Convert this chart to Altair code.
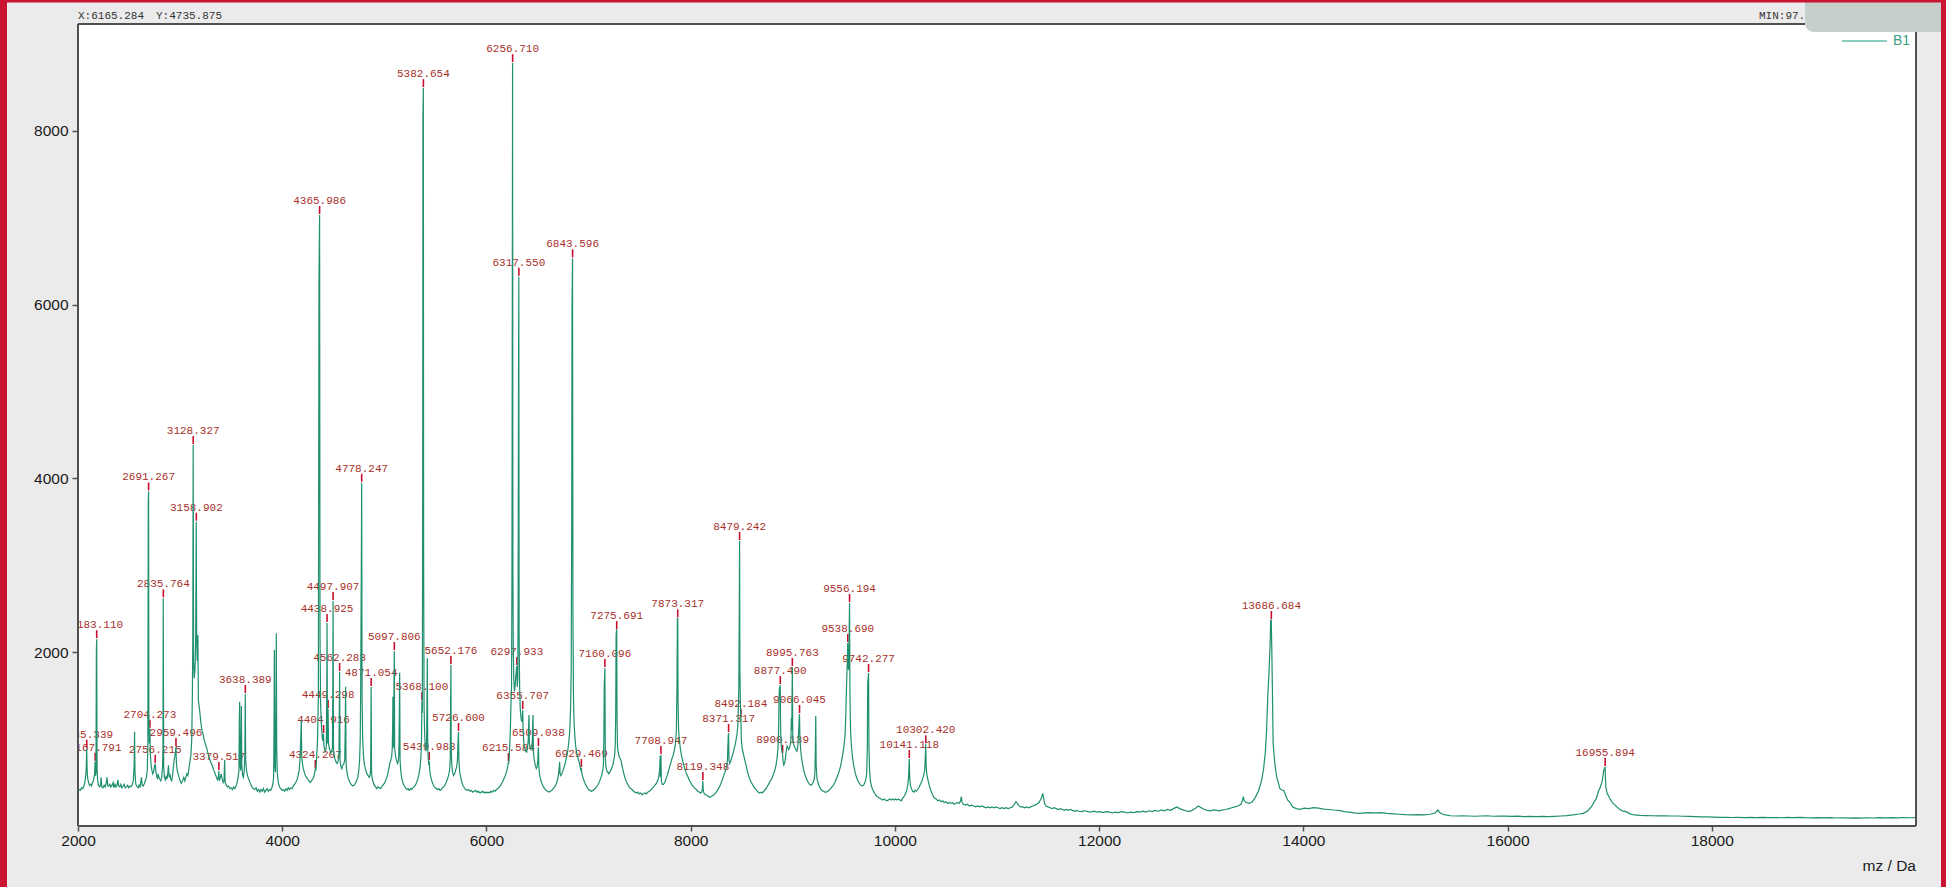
import altair as alt
import pandas as pd

# ---------------- spectrum trace (m/z, intensity) ----------------
SEG_A = [(2000,400),(2012,420),(2024,410),(2036,440),(2048,430),(2058,460),(2066,500),(2074,560),(2080,640),(2085,890),(2090,620),(2096,540),(2104,500),(2112,470),(2122,480),(2132,460),(2142,500),(2150,520),(2157,560),(2163,600),(2167,740),(2171,580),(2176,620),(2180,2020),(2183,2150),(2187,640),(2193,520),(2200,470),(2210,450),(2220,470),(2226,560),(2232,450),(2244,440),(2256,470),(2266,450),(2276,490),(2284,560),(2290,470),(2300,460),(2312,480),(2322,450),(2334,470),(2344,500),(2352,440),(2362,480),(2372,450),(2382,470),(2392,530),(2398,460),(2410,450),(2420,480),(2430,440),(2442,460),(2452,480),(2462,440),(2474,450),(2486,470),(2496,440),(2508,460),(2518,450),(2530,470),(2542,520),(2550,700),(2554,1085),(2558,620),(2566,480),(2576,460),(2588,440),(2598,470),(2608,450),(2616,520),(2622,560),(2628,470),(2638,460),(2650,490),(2660,520),(2670,560),(2678,640),(2684,900),(2688,3700),(2691,3850),(2694,1300),(2698,950),(2704,1120),(2709,820),(2716,700),(2724,640),(2732,600),(2740,620),(2748,680),(2756,715),(2762,640),(2770,580),(2778,540),(2786,600),(2792,560),(2800,540),(2810,520),(2820,560),(2828,680),(2832,900),(2835,2620),(2839,700),(2846,560),(2856,530),(2864,580),(2872,540),(2880,620),(2886,700),(2892,560),(2900,600),(2908,540),(2918,520),(2926,580),(2934,680),(2942,760),(2950,820),(2955,860),(2959,910),(2964,720),(2972,640),(2980,600),(2990,560)]
SEG_B = [(3000,520),(3012,490),(3024,520),(3036,560),(3046,520),(3056,560),(3066,600),(3076,580),(3086,660),(3096,740),(3106,820),(3114,1000),(3120,1500),(3124,2100),(3128,4384),(3132,1900),(3138,1700),(3146,1800),(3152,2100),(3156,2900),(3158,3502),(3162,2200),(3168,1900),(3174,2198),(3179,1450),(3186,1380),(3194,1300),(3204,1180),(3214,1100),(3224,1060),(3236,990),(3248,940),(3260,900),(3274,830),(3288,770),(3302,730),(3316,690),(3330,640),(3344,600),(3356,560),(3366,530),(3374,560),(3379,633),(3384,520),(3394,560),(3402,600),(3412,540),(3422,500),(3430,520),(3436,760),(3441,500),(3452,470),(3464,450),(3476,460),(3488,430),(3500,440),(3512,420),(3524,450),(3536,430),(3548,460),(3558,500),(3568,560),(3576,640),(3580,1200),(3583,1430),(3587,700),(3594,640),(3600,1380),(3604,700),(3612,580),(3620,560),(3628,640),(3634,800),(3638,1519),(3642,760),(3650,640),(3660,580),(3672,540),(3684,500),(3696,470),(3708,440),(3720,430),(3732,420),(3744,440),(3756,400),(3768,420),(3780,390),(3792,420),(3804,400),(3816,430),(3828,390),(3840,410),(3852,430),(3864,400),(3876,420),(3888,410),(3898,440),(3908,480),(3916,560),(3920,1200),(3923,2025),(3927,700),(3934,620),(3939,1500),(3942,2217),(3946,900),(3952,600),(3962,500),(3974,450),(3986,430)]
SEG_C = [(4000,410),(4012,420),(4024,400),(4036,430),(4048,410),(4060,440),(4072,420),(4084,440),(4096,430),(4108,460),(4120,480),(4132,500),(4144,530),(4156,580),(4166,640),(4174,760),(4180,950),(4184,1100),(4187,1220),(4191,800),(4198,720),(4206,660),(4216,620),(4226,580),(4238,560),(4250,540),(4262,520),(4274,500),(4286,520),(4298,540),(4308,560),(4316,600),(4324,656),(4330,640),(4338,800),(4346,1000),(4354,1500),(4360,6283),(4366,7031),(4370,2200),(4376,1400),(4384,1150),(4392,1020),(4398,980),(4404,1059),(4409,920),(4416,880),(4424,860),(4432,920),(4436,1500),(4439,2336),(4443,950),(4446,1000),(4449,1346),(4453,960),(4460,900),(4468,870),(4476,840),(4484,860),(4492,900),(4495,1500),(4498,2589),(4502,880),(4510,800),(4520,760),(4530,730),(4540,720),(4550,760),(4556,840),(4559,1300),(4562,1772),(4566,760),(4574,690),(4584,660),(4594,700),(4604,720),(4612,760),(4617,1100),(4621,1603),(4625,720),(4634,620),(4644,560),(4656,520),(4668,490),(4680,470),(4692,460),(4704,470),(4716,490),(4728,520),(4740,560),(4750,640),(4758,760),(4764,1000),(4768,1500),(4771,2178),(4776,3300),(4778,3950),(4782,1500),(4788,1000),(4796,800),(4806,700),(4818,640),(4830,600),(4842,580),(4852,560),(4860,580),(4866,640),(4871,1600),(4875,620),(4882,540),(4892,500),(4902,470),(4914,450),(4926,430),(4938,450),(4950,440),(4962,430),(4974,450),(4986,470)]
SEG_D = [(5000,490),(5012,520),(5024,560),(5034,600),(5044,660),(5054,720),(5064,760),(5072,800),(5078,900),(5082,1200),(5084,1488),(5087,900),(5092,1000),(5095,1700),(5098,2014),(5101,900),(5108,820),(5118,760),(5128,720),(5136,740),(5142,820),(5147,1300),(5150,1764),(5154,760),(5162,620),(5172,540),(5184,490),(5196,460),(5208,440),(5220,420),(5232,430),(5244,410),(5256,430),(5268,420),(5280,440),(5292,450),(5304,470),(5316,500),(5328,540),(5340,600),(5350,680),(5358,780),(5364,1000),(5368,1438),(5372,1300),(5376,4000),(5378,8147),(5382,8492),(5385,3000),(5389,1400),(5394,1100),(5400,920),(5408,860),(5414,960),(5418,1500),(5421,1930),(5425,900),(5430,780),(5436,700),(5440,748),(5445,640),(5452,580),(5462,530),(5474,490),(5486,460),(5498,440),(5510,430),(5522,420),(5534,430),(5546,410),(5558,420),(5570,440),(5582,450),(5594,470),(5606,500),(5618,540),(5628,580),(5636,620),(5642,680),(5646,800),(5649,1400),(5652,1853),(5655,900),(5660,720),(5668,620),(5678,580),(5688,600),(5698,640),(5708,680),(5716,760),(5721,950),(5726,1082),(5730,760),(5738,620),(5748,560),(5760,500),(5772,460),(5784,440),(5796,420),(5810,410),(5824,420),(5838,400),(5852,410),(5866,390),(5880,400),(5894,410),(5908,390),(5922,400),(5936,380),(5950,390),(5964,400),(5978,380),(5990,390)]
SEG_E = [(6000,380),(6014,390),(6028,380),(6042,400),(6056,390),(6070,410),(6084,400),(6098,420),(6112,430),(6126,450),(6140,470),(6154,500),(6166,530),(6178,560),(6190,600),(6200,640),(6208,680),(6212,720),(6215,736),(6219,720),(6226,860),(6234,1100),(6240,1400),(6246,1603),(6250,3000),(6252,4810),(6256,8780),(6259,3000),(6263,2000),(6268,1700),(6274,1550),(6280,1600),(6286,1700),(6292,1780),(6297,1841),(6302,1600),(6307,1700),(6310,2500),(6314,5000),(6317,6321),(6320,2200),(6325,1600),(6331,1350),(6338,1250),(6345,1200),(6351,1250),(6355,1335),(6359,1100),(6366,960),(6374,900),(6384,860),(6394,850),(6402,900),(6410,1000),(6414,1200),(6417,1277),(6420,950),(6428,900),(6436,880),(6444,900),(6450,1000),(6453,1200),(6456,1277),(6460,850),(6468,760),(6478,700),(6488,660),(6496,680),(6503,760),(6506,860),(6509,909),(6513,680),(6522,580),(6534,520),(6546,480),(6558,450),(6570,430),(6584,410),(6598,400),(6612,390),(6626,400),(6640,410),(6654,430),(6668,450),(6682,480),(6694,520),(6704,580),(6710,640),(6714,700),(6717,740),(6721,600),(6728,580),(6738,600),(6750,640),(6762,680),(6774,740),(6786,800),(6798,880),(6808,980),(6816,1100),(6824,1350),(6830,1800),(6835,3500),(6838,5949),(6843,6533),(6847,2500),(6852,1500),(6858,1200),(6865,1050),(6874,920),(6884,840),(6894,790),(6904,750),(6914,710),(6922,650),(6926,640),(6929,667),(6933,620),(6940,580),(6950,540),(6962,500),(6974,470),(6988,440)]
SEG_F = [(7000,420),(7014,410),(7028,400),(7042,410),(7056,420),(7070,440),(7084,460),(7098,490),(7110,520),(7122,560),(7132,600),(7140,650),(7146,720),(7150,1000),(7154,1646),(7157,1700),(7160,1818),(7164,800),(7170,680),(7178,640),(7188,620),(7198,600),(7208,620),(7218,640),(7228,670),(7238,700),(7248,760),(7256,820),(7262,950),(7266,1300),(7270,2198),(7273,2250),(7276,2255),(7279,1200),(7284,900),(7292,840),(7300,800),(7308,780),(7316,760),(7324,720),(7334,660),(7346,600),(7358,550),(7370,510),(7384,480),(7398,450),(7412,430),(7426,420),(7440,400),(7454,390),(7468,380),(7482,390),(7496,370),(7510,380),(7524,360),(7538,370),(7552,380),(7566,370),(7580,390),(7594,400),(7608,410),(7622,430),(7636,450),(7650,470),(7664,490),(7676,520),(7686,560),(7694,620),(7698,700),(7701,805),(7704,560),(7707,700),(7709,817),(7713,520),(7722,480),(7734,480),(7746,500),(7758,540),(7770,580),(7782,630),(7794,680),(7806,730),(7818,780),(7830,820),(7842,880),(7852,960),(7860,1100),(7866,1600),(7870,2390),(7873,2390),(7877,1400),(7882,1100),(7890,980),(7900,880),(7912,800),(7924,740),(7936,690),(7948,640),(7960,600),(7972,570),(7986,530)]
SEG_G = [(8000,500),(8014,470),(8028,450),(8042,430),(8056,420),(8070,400),(8084,390),(8098,380),(8108,390),(8114,420),(8119,518),(8124,400),(8134,370),(8146,360),(8160,350),(8174,340),(8188,330),(8202,340),(8216,350),(8230,360),(8244,380),(8258,400),(8272,430),(8286,460),(8300,500),(8312,540),(8324,580),(8336,620),(8346,660),(8354,700),(8360,760),(8364,900),(8368,1030),(8371,1070),(8375,760),(8382,720),(8390,740),(8400,780),(8412,820),(8424,880),(8436,940),(8446,1000),(8454,1060),(8462,1150),(8468,1400),(8472,1642),(8476,2500),(8479,3280),(8482,1800),(8486,1500),(8489,1300),(8492,1243),(8496,1000),(8504,900),(8514,840),(8526,780),(8538,720),(8550,660),(8562,600),(8576,550),(8590,510),(8604,480),(8618,450),(8632,430),(8646,410),(8660,390),(8674,380),(8688,390),(8702,380),(8716,400),(8730,420),(8744,440),(8758,470),(8772,500),(8786,530),(8800,560),(8812,600),(8824,640),(8836,700),(8846,780),(8854,880),(8860,1000),(8866,1500),(8870,1603),(8874,1550),(8877,1622),(8881,1100),(8888,900),(8894,860),(8900,828),(8905,740),(8912,700),(8920,720),(8928,780),(8936,860),(8944,920),(8952,900),(8960,880),(8968,900),(8976,940),(8982,1000),(8986,1243),(8990,1100),(8993,1500),(8996,1830)]
SEG_H = [(9000,1000),(9006,950),(9014,920),(9022,900),(9030,880),(9040,860),(9048,900),(9054,1000),(9060,1150),(9063,1250),(9066,1289),(9070,1000),(9076,900),(9084,800),(9094,720),(9104,660),(9116,600),(9128,560),(9140,530),(9152,500),(9164,480),(9176,470),(9188,480),(9200,500),(9210,540),(9216,600),(9220,800),(9225,1266),(9229,700),(9236,560),(9246,500),(9258,460),(9272,430),(9286,410),(9300,400),(9314,390),(9328,390),(9342,400),(9356,410),(9370,430),(9384,450),(9398,470),(9412,500),(9426,540),(9440,580),(9454,630),(9468,690),(9480,760),(9492,840),(9502,930),(9512,1050),(9520,1300),(9526,1600),(9532,1833),(9535,1900),(9538,2106),(9542,1850),(9546,1800),(9550,1900),(9553,2300),(9556,2566),(9560,1500),(9566,1100),(9574,920),(9584,800),(9596,700),(9610,620),(9624,560),(9638,520),(9652,490),(9666,470),(9680,460),(9694,470),(9706,500),(9716,540),(9724,600),(9730,900),(9734,1645),(9738,1700),(9742,1761),(9746,900),(9752,640),(9760,520),(9770,460),(9782,420),(9796,390),(9810,360),(9824,340),(9838,330),(9852,320),(9866,310),(9880,300),(9894,310),(9908,300),(9922,290),(9936,300),(9950,310),(9964,300),(9978,310),(9992,300)]
SEG_I = [(10006,310),(10020,300),(10034,310),(10048,300),(10062,290),(10076,320),(10090,340),(10104,370),(10116,410),(10126,470),(10134,560),(10138,700),(10141,771),(10145,560),(10152,470),(10162,430),(10174,400),(10186,390),(10198,410),(10210,400),(10222,420),(10234,440),(10246,470),(10258,500),(10270,540),(10282,580),(10292,640),(10298,800),(10302,940),(10306,700),(10312,600),(10322,540),(10334,480),(10348,420),(10362,380),(10376,340),(10390,320),(10404,310),(10420,290),(10436,300),(10452,280),(10468,290),(10484,270),(10500,280),(10516,260),(10532,270),(10548,260),(10564,270),(10580,250),(10596,260),(10612,270),(10628,260),(10640,280),(10648,320),(10652,337),(10656,280),(10670,250),(10690,240),(10710,250),(10730,230),(10750,240),(10770,230),(10790,220),(10810,230),(10830,220),(10850,230),(10870,220),(10890,210),(10910,220),(10930,210),(10950,220),(10970,210),(10990,220),(11010,210),(11030,200),(11050,210),(11070,200),(11090,210),(11110,200),(11130,210),(11150,220),(11170,250),(11185,280),(11195,270),(11210,240),(11230,220),(11250,220),(11270,210),(11290,220),(11310,210),(11330,220),(11350,230),(11370,240),(11390,250),(11410,270),(11425,300),(11440,340),(11448,376),(11455,330),(11465,260),(11480,230),(11500,220),(11520,210),(11540,200),(11560,210),(11580,200),(11600,190),(11620,200),(11640,190),(11660,180),(11680,190),(11700,180),(11720,190),(11740,180),(11760,170),(11780,180),(11800,170),(11830,165),(11860,175),(11890,165),(11920,160),(11950,170),(11980,160),(12010,165),(12040,155),(12070,165),(12100,160),(12130,150),(12160,160),(12190,155),(12220,165),(12250,160),(12280,150),(12310,160),(12340,155),(12370,165),(12400,160),(12430,170),(12460,160),(12490,175),(12520,165),(12550,180),(12580,170),(12610,185),(12640,175),(12670,190),(12700,180),(12730,200),(12760,220),(12790,200),(12820,185),(12850,175),(12880,165),(12910,180),(12940,200),(12970,230),(13000,210)]
SEG_J = [(13030,190),(13060,180),(13090,175),(13120,185),(13150,180),(13180,175),(13210,185),(13240,190),(13270,200),(13300,210),(13330,220),(13360,230),(13390,250),(13405,300),(13413,337),(13420,290),(13440,270),(13470,260),(13500,280),(13530,330),(13560,400),(13590,520),(13610,650),(13628,850),(13640,1105),(13652,1500),(13665,1795),(13675,2100),(13680,2370),(13686,2370),(13691,2048),(13698,1500),(13704,955),(13716,780),(13728,650),(13740,560),(13755,500),(13770,430),(13790,414),(13808,410),(13825,360),(13845,300),(13870,270),(13894,222),(13930,200),(13970,192),(14010,205),(14050,200),(14100,211),(14150,205),(14200,195),(14250,190),(14300,184),(14350,180),(14400,165),(14450,160),(14500,150),(14550,146),(14600,150),(14650,155),(14700,150),(14760,153),(14820,145),(14880,140),(14940,135),(15000,130),(15060,127),(15120,130),(15180,128),(15240,135),(15290,150),(15317,184),(15340,150),(15380,130),(15440,118),(15500,115),(15560,118),(15620,115),(15680,112),(15740,115),(15800,118),(15860,112),(15920,115),(15980,114),(16040,110),(16100,113),(16160,108),(16220,111),(16280,107),(16340,110),(16400,107),(16460,111),(16520,115),(16580,120),(16640,128),(16700,138),(16740,146),(16780,170),(16820,220),(16850,280),(16870,320),(16890,400),(16910,452),(16928,520),(16942,640),(16955,679),(16962,450),(16975,376),(16995,330),(17020,280),(17040,255),(17070,220),(17100,190),(17130,172),(17160,165),(17200,140),(17243,127),(17300,122),(17360,120),(17420,118),(17480,117),(17540,116),(17600,115),(17660,115),(17720,112),(17780,110),(17840,108),(17900,106),(17960,104),(18020,102),(18080,100),(18140,100),(18200,98),(18260,100),(18320,96),(18380,99),(18440,97),(18500,100),(18560,96),(18620,98),(18680,95),(18740,99),(18800,97),(18860,100),(18920,96),(18980,94),(19040,97),(19100,93),(19160,96),(19220,92),(19280,95),(19340,90),(19400,94),(19460,91),(19520,95),(19580,92),(19640,96),(19700,93),(19760,97),(19820,94),(19880,98),(19940,95),(20000,97)]

# ---------------- labelled peaks ----------------
PEAK_LABELS = ["2085.339","2167.791","2183.110","2691.267","2704.273","2756.215","2835.764","2959.496","3128.327","3158.902",
               "3379.517","3638.389","4324.207","4365.986","4404.916","4438.925","4449.298","4497.907","4562.283","4778.247",
               "4871.054","5097.806","5368.100","5382.654","5439.988","5652.176","5726.600","6215.584","6256.710","6297.933",
               "6317.550","6355.707","6509.038","6843.596","6929.469","7160.096","7275.691","7708.947","7873.317","8119.348",
               "8371.317","8479.242","8492.184","8877.490","8900.139","8995.763","9066.045","9538.690","9556.194","9742.277",
               "10141.118","10302.420","13686.684","16955.894"]
PEAK_INT = [890,740,2150,3850,1120,715,2620,910,4384,3502,
            633,1519,656,7031,1059,2336,1346,2589,1772,3950,
            1600,2014,1438,8492,748,1853,1082,736,8780,1841,
            6321,1335,909,6533,667,1818,2255,817,2390,518,
            1070,3280,1243,1622,828,1830,1289,2106,2566,1761,
            771,940,2370,679]

X_TICKS = [2000, 4000, 6000, 8000, 10000, 12000, 14000, 16000, 18000]
Y_TICKS = [2000, 4000, 6000, 8000]
X_DOMAIN = [2000, 20000]
Y_DOMAIN = [0, 9230]

W, H = 1838, 802
PAD = {"left": 78, "top": 24, "right": 30, "bottom": 61}

trace = pd.DataFrame(SEG_A + SEG_B + SEG_C + SEG_D + SEG_E + SEG_F + SEG_G + SEG_H + SEG_I + SEG_J,
                     columns=["mz", "intensity"])
peaks = pd.DataFrame({"mz": [float(s) for s in PEAK_LABELS], "intensity": PEAK_INT, "label": PEAK_LABELS})
one = pd.DataFrame({"k": [0]})

AXIS_COLOR = "#505050"
LABEL_COLOR = "#1a1a1a"
LINE_COLOR = "#1F8F70"

xs = alt.Scale(domain=X_DOMAIN, nice=False, zero=False)
ys = alt.Scale(domain=Y_DOMAIN, nice=False, zero=False)
x_axis = alt.Axis(values=X_TICKS, format="d", title=None, grid=False, domain=False,
                  tickSize=5, tickWidth=1.5, tickColor=AXIS_COLOR,
                  labelFont="Liberation Sans", labelFontSize=15.5, labelColor=LABEL_COLOR,
                  labelPadding=2, labelFlush=False, labelOverlap=False)
y_axis = alt.Axis(values=Y_TICKS, format="d", title=None, grid=False, domain=False,
                  tickSize=6, tickWidth=1.5, tickColor=AXIS_COLOR,
                  labelFont="Liberation Sans", labelFontSize=15.5, labelColor=LABEL_COLOR,
                  labelPadding=4, labelOverlap=False)

X = alt.X("mz:Q", scale=xs, axis=x_axis)
Y = alt.Y("intensity:Q", scale=ys, axis=y_axis)

labels = alt.Chart(peaks).mark_text(
    font="Liberation Mono", fontSize=11, color="#A8302A", baseline="alphabetic", dy=-11, clip=True
).encode(x=X, y=Y, text="label:N")

tick_marks = alt.Chart(peaks).mark_rule(
    color="#C8102E", strokeWidth=1.6, yOffset=-9, y2Offset=-1
).encode(x=X, y=Y, y2=alt.Y2("intensity"))

line = alt.Chart(trace).mark_line(color=LINE_COLOR, strokeWidth=1.2, clip=True).encode(x=X, y=Y)


def hrule(x1, x2, y, color, width):
    return alt.Chart(one).mark_rule(color=color, strokeWidth=width).encode(
        x=alt.value(x1), x2=alt.value(x2), y=alt.value(y))


def vrule(x, y1, y2, color, width):
    return alt.Chart(one).mark_rule(color=color, strokeWidth=width).encode(
        x=alt.value(x), y=alt.value(y1), y2=alt.value(y2))


def box(x1, x2, y1, y2, color, **kw):
    return alt.Chart(one).mark_rect(color=color, **kw).encode(
        x=alt.value(x1), x2=alt.value(x2), y=alt.value(y1), y2=alt.value(y2))


def label(txt, x, y, size, color, font="Liberation Sans", align="left"):
    return alt.Chart(one).mark_text(font=font, fontSize=size, color=color, align=align,
                                    baseline="middle").encode(
        x=alt.value(x), y=alt.value(y), text=alt.value(txt))


frame = [
    vrule(0, 0, H, AXIS_COLOR, 2),
    hrule(0, W, H, AXIS_COLOR, 2),
    hrule(0, 1727, 0, AXIS_COLOR, 2),
    vrule(W, 8, H, AXIS_COLOR, 2),
]

decor = [
    box(1727, 1863, -22, 8, "#C7CFCB", cornerRadiusBottomLeft=9),
    label("X:6165.284", 0, -8.5, 11, "#333333", font="Liberation Mono"),
    label("Y:4735.875", 78, -8.5, 11, "#333333", font="Liberation Mono"),
    label("MIN:97.", 1681, -8.5, 11, "#333333", font="Liberation Mono"),
    hrule(1764, 1809, 17, "#8ACDBF", 2),
    label("B1", 1815, 17, 14, "#3A9E86"),
    label("mz / Da", W, 842, 15.5, LABEL_COLOR, align="right"),
    box(-78, -71, -24, 863, "#C91432"),
    box(-78, 1868, -24, -21.5, "#C91432"),
    box(1863, 1868, -24, 863, "#C91432"),
]

chart = alt.layer(labels, tick_marks, line, *frame, *decor).properties(
    width=W, height=H, padding=PAD,
    autosize=alt.AutoSizeParams(type="none"),
    background="#EBEBEB",
).configure_view(fill="white", stroke="transparent")

chart.save("out.html", embed_options={"renderer": "svg", "actions": False})
